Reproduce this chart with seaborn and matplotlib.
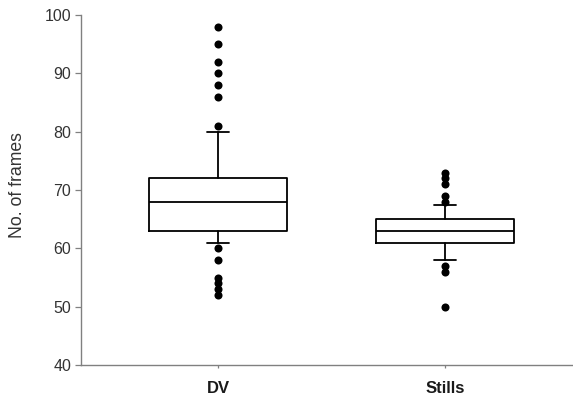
import matplotlib
matplotlib.use('Agg')
import matplotlib.pyplot as plt
import seaborn as sns
import pandas as pd

# Box statistics (SigmaPlot-style: whiskers at 10th/90th percentile)
categories = ['DV', 'Stills']
q1 = [63, 61]
median = [68, 63]
q3 = [72, 65]
whisker_low = [61, 58]
whisker_high = [80, 67.5]

# Outlying points per group
dv_outliers = [98, 95, 92, 90, 88, 86, 81, 60, 58, 55, 54, 53, 52]
stills_outliers = [73, 72, 71, 69, 68, 57, 56, 50]

sns.set_style('ticks')
plt.rcParams['font.family'] = ['Liberation Sans', 'DejaVu Sans']

fig = plt.figure(figsize=(5.73, 3.99), dpi=100)
ax = fig.add_axes([0.1414, 0.0852, 0.858, 0.877])

stats = []
for i, name in enumerate(categories):
    stats.append({
        'label': name,
        'q1': q1[i], 'med': median[i], 'q3': q3[i],
        'whislo': whisker_low[i], 'whishi': whisker_high[i],
        'fliers': [],
    })

line = dict(color='black', linewidth=1.3)
ax.bxp(stats, positions=[0, 1], widths=0.61, capwidths=0.095,
       showfliers=False, boxprops=line, medianprops=line,
       whiskerprops=line, capprops=line)

pts = pd.DataFrame({
    'group': ['DV'] * len(dv_outliers) + ['Stills'] * len(stills_outliers),
    'frames': dv_outliers + stills_outliers,
})
sns.stripplot(data=pts, x='group', y='frames', order=categories, jitter=False,
              color='black', size=5.8, linewidth=0, ax=ax, zorder=3)

ax.set_xlim(-0.604, 1.564)
ax.set_ylim(40, 100)
ax.set_yticks(range(40, 101, 10))
ax.set_xticks([0, 1])
ax.set_xticklabels(categories, fontweight='bold', fontsize=12, color='#1a1a1a')
ax.set_xlabel('')
ax.set_ylabel('No. of frames', fontsize=12.7, color='#333333')
ax.yaxis.set_label_coords(-0.112, 0.515)

for s in ['top', 'right']:
    ax.spines[s].set_visible(False)
for s in ['left', 'bottom']:
    ax.spines[s].set_color('#808080')
    ax.spines[s].set_linewidth(1.0)

ax.tick_params(axis='y', length=4, width=0.9, color='#808080', labelsize=11.5,
               labelcolor='#333333', pad=3)
ax.tick_params(axis='x', length=2.5, width=0.9, color='#808080', pad=9)

fig.savefig('out.png', dpi=100)
plt.close(fig)
